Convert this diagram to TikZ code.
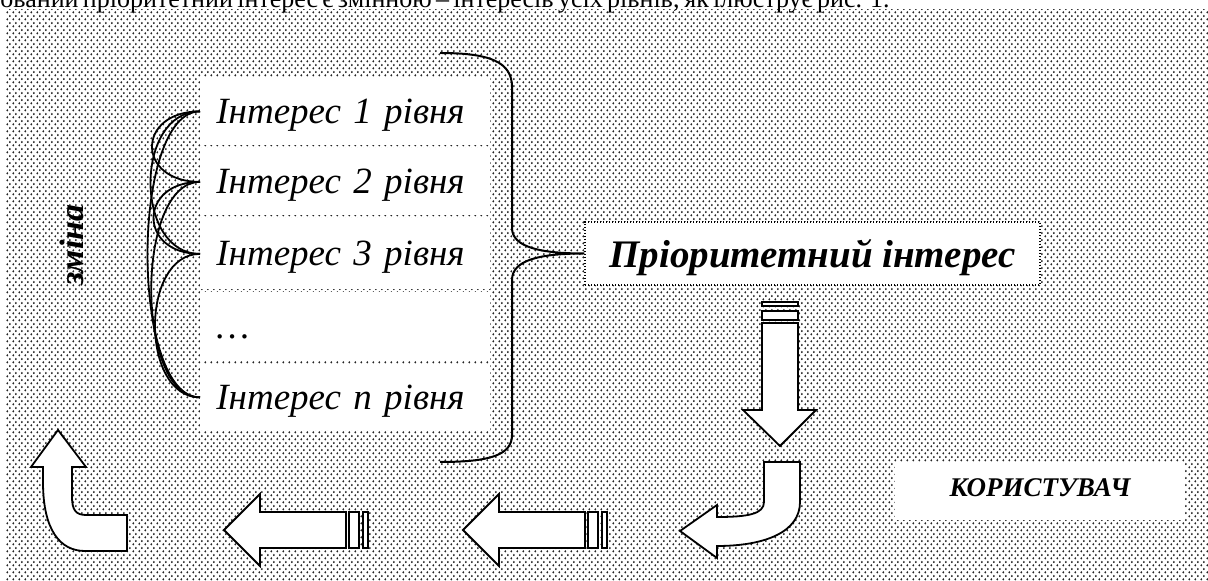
\documentclass[tikz,border=0pt]{standalone}
\usepackage{fontspec}
\setmainfont{Liberation Serif}
\usetikzlibrary{patterns}

% fine staggered dot texture for the canvas
\pgfdeclarepatternformonly{bgdots}{\pgfpointorigin}{\pgfqpoint{3pt}{3.4pt}}{\pgfqpoint{3pt}{3.4pt}}{%
  \pgfpathcircle{\pgfqpoint{0.75pt}{0.85pt}}{0.6pt}%
  \pgfpathcircle{\pgfqpoint{2.25pt}{2.55pt}}{0.6pt}%
  \pgfusepath{fill}}

\begin{document}
\begin{tikzpicture}[x=0.5pt, y=-0.5pt,
  ibox/.style={fill=white, anchor=north west, inner xsep=8pt, inner ysep=0pt,
    text width=129pt, align=left, text height=16pt, text depth=4pt,
    font=\fontsize{18.5pt}{22pt}\selectfont\itshape},
  pribox/.style={draw, fill=white, line width=0.7pt, dash pattern=on 0.6pt off 0.9pt,
    minimum width=227.5pt, minimum height=31.5pt, inner sep=0pt,
    text height=18.5pt, text depth=4pt,
    font=\fontsize{19.5pt}{23pt}\selectfont\bfseries\itshape},
  userbox/.style={fill=white, minimum width=145pt, minimum height=29pt, inner sep=0pt,
    text height=9.5pt, text depth=3.5pt,
    font=\fontsize{13.5pt}{16pt}\selectfont\bfseries\itshape},
  link/.style={draw, line width=0.9pt},
  brace/.style={draw, line width=1pt},
  blockarrow/.style={draw, fill=white, line width=0.9pt, line join=miter}]

\useasboundingbox (0,0) rectangle (1208,581);

% canvas
\fill[pattern=bgdots, pattern color=black!85] (5,10) rectangle (1208,581);

% running text line above the figure
\node[anchor=base west, inner sep=0pt, font=\fontsize{13pt}{15pt}\selectfont] (para) at (0,8)
  {\makebox[430pt][s]{ований пріоритетний інтерес є змінною – інтересів усіх рівнів, як ілюструє рис. 1.}};

% levels of interest
\node[ibox, minimum height=34pt]   (ib1) at (200,77)  {Інтерес 1 рівня};
\node[ibox, minimum height=33.5pt] (ib2) at (200,148) {Інтерес 2 рівня};
\node[ibox, minimum height=35.5pt] (ib3) at (200,218) {Інтерес 3 рівня};
\node[ibox, minimum height=34.5pt] (ib4) at (200,292) {…};
\node[ibox, minimum height=33pt]   (ib5) at (200,364) {Інтерес n рівня};

% mutual change links between the levels
\draw[link] (ib1.west) .. controls +(-64,0) and +(-64,0) .. (ib2.west);
\draw[link] (ib1.west) .. controls +(-66,0) and +(-66,0) .. (ib3.west);
\draw[link] (ib1.west) .. controls +(-70,0) and +(-70,0) .. (ib5.west);
\draw[link] (ib2.west) .. controls +(-62,0) and +(-62,0) .. (ib3.west);
\draw[link] (ib2.west) .. controls +(-65,0) and +(-65,0) .. (ib5.west);
\draw[link] (ib3.west) .. controls +(-60,0) and +(-60,0) .. (ib5.west);

\node[rotate=90, anchor=base, inner sep=0pt,
  font=\fontsize{17pt}{20pt}\selectfont\bfseries\itshape] (zm) at (83,245) {зміна};

% priority interest and the brace gathering all levels
\node[pribox] (pri) at (812.5,253.5) {Пріоритетний інтерес};

\coordinate (bt) at (440,53);
\coordinate (bb) at (440,462);
\draw[brace] (bt) .. controls (490,53) and (512,62) .. (512,87)
  -- (512,228) .. controls (512,247) and (540,253.5) .. (pri.west)
  .. controls (540,253.5) and (512,260) .. (512,280)
  -- (512,435) .. controls (512,455) and (490,462) .. (bb);

% user
\node[userbox] (usr) at (1040,491) {КОРИСТУВАЧ};

% downward arrow from the priority interest
\draw[blockarrow] (762,302) rectangle (798,306);
\draw[blockarrow] (762,311) rectangle (798,320);
\draw[blockarrow] (762,323) -- (798,323) -- (798,410) -- (816,410) -- (780,446)
  -- (743,410) -- (762,410) -- cycle;

% bend towards the left
\draw[blockarrow] (764,462) -- (800,462) -- (800,502)
  .. controls (800,532) and (765,546) .. (717,546) -- (717,558) -- (680,531)
  -- (717,505) -- (717,517) .. controls (748,517) and (764,514) .. (764,502) -- cycle;

% two straight arrows to the left
\foreach \dx in {0,239}{
  \begin{scope}[shift={(\dx,0)}]
    \draw[blockarrow] (346,512) -- (260,512) -- (260,494) -- (224,530) -- (260,566)
      -- (260,548) -- (346,548) -- cycle;
    \draw[blockarrow] (349,512) rectangle (359,548);
    \draw[blockarrow] (363,512) rectangle (368,548);
  \end{scope}
}

% bend back upwards
\draw[blockarrow] (127,515) -- (127,551) -- (85,551)
  .. controls (60,551) and (43,530) .. (43,482) -- (43,467) -- (31,467) -- (58,430)
  -- (86,467) -- (72,467) -- (72,497) .. controls (72,510) and (76,515) .. (86,515) -- cycle;

\end{tikzpicture}
\end{document}
